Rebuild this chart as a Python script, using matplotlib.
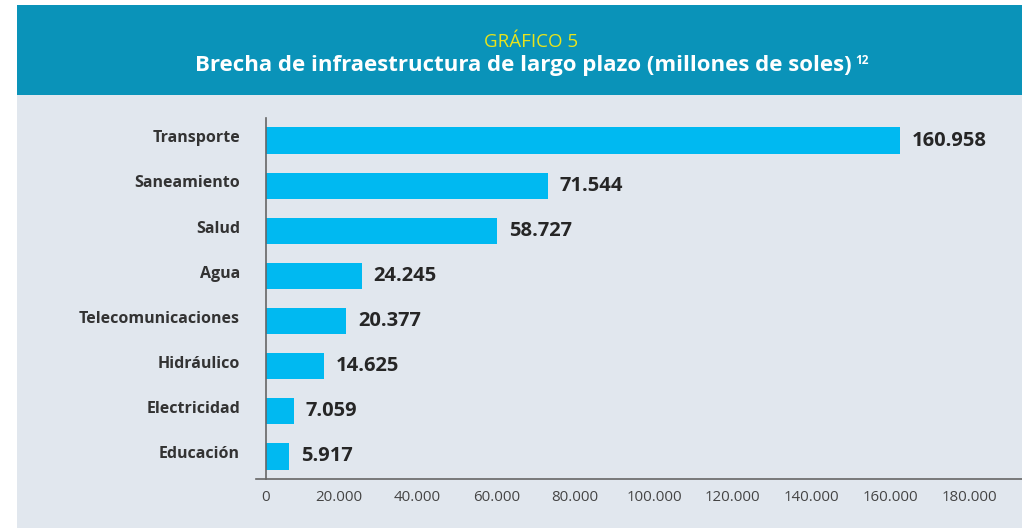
import matplotlib.pyplot as plt
from matplotlib.patches import Rectangle
from matplotlib.transforms import ScaledTranslation

categorias = ["Transporte", "Saneamiento", "Salud", "Agua", "Telecomunicaciones",
              "Hidráulico", "Electricidad", "Educación"]
valores = [160958, 71544, 58727, 24245, 20377, 14625, 7059, 5917]
etiquetas = ["160.958", "71.544", "58.727", "24.245", "20.377", "14.625", "7.059", "5.917"]
ticks = [0, 20000, 40000, 60000, 80000, 100000, 120000, 140000, 160000, 180000]
tick_labels = ["0", "20.000", "40.000", "60.000", "80.000", "100.000",
               "120.000", "140.000", "160.000", "180.000"]

plt.rcParams['font.family'] = ['Open Sans', 'DejaVu Sans']

W, H = 1022, 528
fig = plt.figure(figsize=(W / 100, H / 100), dpi=100)
fig.patch.set_facecolor('white')

# fondo gris y cabecera azul, en un eje de fondo
bg = fig.add_axes([0, 0, 1, 1], zorder=-1)
bg.set_xlim(0, W)
bg.set_ylim(H, 0)
bg.axis('off')
bg.add_patch(Rectangle((17, 95), W - 17, H - 95, facecolor='#e1e7ee', edgecolor='none'))
bg.add_patch(Rectangle((17, 5), W - 17, 90, facecolor='#0a93b9', edgecolor='none'))
bg.text(531, 42, "GRÁFICO 5", color='#e8e41c', fontsize=13.5, ha='center', va='center')
bg.text(523, 65, "Brecha de infraestructura de largo plazo (millones de soles)",
        color='white', fontsize=16, fontweight='bold', ha='center', va='center')
bg.text(855, 61, "12", color='white', fontsize=8.5, fontweight='bold', ha='left', va='center')

ax = fig.add_axes([256 / W, 1 - 479 / H, 1 - 256 / W, (479 - 118) / H])
ax.set_facecolor('none')
y = list(range(len(categorias)))
ax.barh(y, valores, height=0.58, color='#00b9f1', zorder=2)
for yi, v, lab in zip(y, valores, etiquetas):
    ax.text(v + 3000, yi, lab, va='center', ha='left', fontsize=14.5,
            fontweight='bold', color='#262626')
# etiquetas de categoría en negrita
for yi, cat in zip(y, categorias):
    ax.text(-16 / 766, yi - 0.05, cat, transform=ax.get_yaxis_transform(),
            ha='right', va='center', fontsize=11.5, fontweight='bold', color='#333333')

ax.set_xlim(-2540, 191900)
ax.set_ylim(7.5, -0.5)
ax.set_yticks([])
ax.set_xticks(ticks)
ax.set_xticklabels(tick_labels)
ax.tick_params(axis='both', length=0)
ax.tick_params(axis='x', pad=8)
shift = ScaledTranslation(-6 / 100, 0, fig.dpi_scale_trans)
for i, lbl in enumerate(ax.get_xticklabels()):
    lbl.set_fontsize(10.8)
    lbl.set_color('#444444')
    if i > 0:
        lbl.set_transform(lbl.get_transform() + shift)
for s in ['top', 'right']:
    ax.spines[s].set_visible(False)
ax.spines['left'].set_position(('data', 0))
ax.spines['left'].set_color('#666666')
ax.spines['bottom'].set_color('#666666')
ax.spines['left'].set_linewidth(1.2)
ax.spines['bottom'].set_linewidth(1.2)

plt.savefig("out.png", dpi=100)
